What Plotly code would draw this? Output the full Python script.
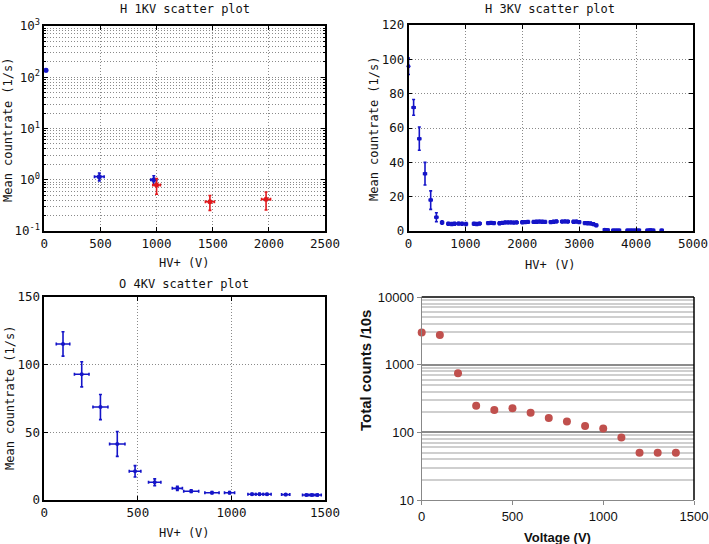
import plotly.graph_objects as go

W, H = 709, 544

# ---------------- data ----------------
# Panel 1: H 1KV (log y)
h1_blue_x = [15, 490, 975]
h1_blue_y = [137, 1.15, 1.0]
h1_blue_yerr = [8, 0.2, 0.2]
h1_blue_xerr = [12, 43, 27]
h1_red_x = [1000, 1475, 1975]
h1_red_y = [0.79, 0.373, 0.417]
h1_red_yerr = [0.27, 0.12, 0.16]
h1_red_xerr = [34, 40, 40]

# Panel 2: H 3KV
h3_x = [0, 90, 190, 290, 390, 490, 590, 700, 760, 810, 880, 940, 1010, 1150, 1200, 1250,
        1400, 1450, 1500, 1600, 1650, 1700, 1750, 1800, 1850, 1900, 2000, 2050, 2100,
        2200, 2250, 2300, 2350, 2400, 2500, 2550, 2600, 2700, 2750, 2800, 2900, 2950,
        3000, 3100, 3150, 3200, 3250, 3300, 3450, 3500, 3600, 3650, 3700, 3850, 3900,
        3950, 4000, 4050, 4200, 4250, 4300, 4450]
h3_y = [96, 72, 53.8, 33.4, 18, 8, 4.9, 4.2, 4.1, 4.2, 4.3, 4.2, 4.1, 4.2, 4.1, 4.3,
        4.6, 4.7, 4.6, 4.5, 4.7, 5.0, 5.0, 5.0, 4.9, 5.0, 5.1, 5.2, 5.3,
        5.3, 5.4, 5.5, 5.4, 5.3, 5.2, 5.4, 5.6, 5.5, 5.6, 5.5, 5.4, 5.5,
        5.2, 4.6, 4.5, 4.4, 4.0, 3.3, 0.8, 0.6, 0.5, 0.5, 0.4, 0.4, 0.5,
        0.5, 0.5, 0.4, 0.5, 0.6, 0.5, 0.4]
h3_yerr = [4.8, 4.6, 6.8, 6.6, 5.4, 2.6, 1.0] + [0.8] * 41 + [0.4] * 14
h3_xerr = [10, 25, 25, 25, 25, 25, 25] + [25] * 55

# Panel 3: O 4KV
o4_x = [100, 200, 300, 390, 485, 590, 711, 785, 896, 990, 1110, 1150, 1190, 1290, 1400, 1430, 1460]
o4_y = [115.3, 92.9, 68.7, 41.4, 21.2, 13.1, 8.6, 6.5, 5.4, 5.4, 4.3, 4.3, 4.2, 4.0, 3.7, 3.7, 3.7]
o4_yerr = [9, 9.3, 9.3, 9.2, 4.2, 2.5, 1.5, 1.0, 0.8, 0.8, 0.6, 0.6, 0.6, 0.6, 0.5, 0.5, 0.5]
o4_xerr = [36, 39, 40, 41, 31, 33, 27, 40, 38, 27, 22, 22, 22, 22, 20, 20, 20]

# Panel 4: total counts
v_x = [0, 100, 200, 300, 400, 500, 600, 700, 800, 900, 1000, 1100, 1200, 1300, 1400]
v_counts = [3000, 2750, 745, 248, 214, 227, 195, 163, 145, 124, 114, 84, 50, 50, 50]

# ---------------- helpers ----------------
def px(x):
    return x / W

def py(y):
    return 1 - y / H

MONO = "DejaVu Sans Mono"
BLUE = "#1414c8"
RED = "#e0181c"
GRID = "#8a8a8a"
DOT = "1px,2px"

fig = go.Figure()

def err_trace(x, y, xe, ye, color, xa, ya, size=5):
    return go.Scatter(
        x=x, y=y, mode="markers", xaxis=xa, yaxis=ya, showlegend=False,
        marker=dict(color=color, size=size),
        error_x=dict(type="data", array=xe, color=color, thickness=1.6, width=1.5),
        error_y=dict(type="data", array=ye, color=color, thickness=1.6, width=1.5),
        cliponaxis=False,
    )

fig.add_trace(err_trace(h1_blue_x, h1_blue_y, h1_blue_xerr, h1_blue_yerr, BLUE, "x", "y"))
fig.add_trace(err_trace(h1_red_x, h1_red_y, h1_red_xerr, h1_red_yerr, RED, "x", "y"))
fig.add_trace(err_trace(h3_x, h3_y, h3_xerr, h3_yerr, BLUE, "x2", "y2", size=4))
fig.add_trace(err_trace(o4_x, o4_y, o4_xerr, o4_yerr, BLUE, "x3", "y3", size=4))
fig.add_trace(go.Scatter(
    x=v_x, y=v_counts, mode="markers", xaxis="x4", yaxis="y4", showlegend=False,
    marker=dict(color="#c0504d", size=8), cliponaxis=False))

mono_axis = dict(
    showline=True, linecolor="black", linewidth=1.5, mirror="allticks",
    ticks="inside", ticklen=4, tickcolor="black", tickwidth=1, automargin=False,
    showgrid=True, gridcolor=GRID, griddash=DOT, gridwidth=1,
    zeroline=False, tickfont=dict(family=MONO, size=12.5, color="#111"),
)

P1x = [px(44.3), px(325)]
P1y = [py(231), py(26)]
P2x = [px(408.5), px(693)]
P2y = [py(231), py(25)]
P3x = [px(44.3), px(325)]
P3y = [py(500), py(297)]
P4x = [px(421.7), px(694)]
P4y = [py(500), py(297)]

decs1 = [0.1, 1, 10, 100, 1000]
minor1 = [m * d for d in [0.1, 1, 10, 100] for m in range(2, 10)]

fig.update_layout(
    width=W, height=H, margin=dict(l=0, r=0, t=0, b=0, autoexpand=False),
    paper_bgcolor="white", plot_bgcolor="white",
    xaxis=dict(mono_axis, domain=P1x, range=[0, 2500], tickvals=[0, 500, 1000, 1500, 2000, 2500],
               anchor="y"),
    yaxis=dict(mono_axis, domain=P1y, type="log", range=[-1, 3], tickvals=decs1,
               ticktext=["10<sup>-1</sup>", "10<sup>0</sup>", "10<sup>1</sup>", "10<sup>2</sup>", "10<sup>3</sup>"],
               minor=dict(tickvals=minor1, showgrid=True, gridcolor=GRID, griddash=DOT,
                          ticks="inside", ticklen=2, tickcolor="black"),
               anchor="x"),
    xaxis2=dict(mono_axis, domain=P2x, range=[0, 5000], dtick=1000, anchor="y2"),
    yaxis2=dict(mono_axis, domain=P2y, range=[0, 120], dtick=20, anchor="x2"),
    xaxis3=dict(mono_axis, domain=P3x, range=[0, 1500], dtick=500, anchor="y3"),
    yaxis3=dict(mono_axis, domain=P3y, range=[0, 150], dtick=50, anchor="x3"),
    xaxis4=dict(domain=P4x, range=[0, 1500], dtick=500, anchor="y4", automargin=False,
                showline=True, linecolor="#888888", linewidth=1.2,
                ticks="outside", ticklen=4, tickcolor="#888888",
                showgrid=False, zeroline=False,
                tickfont=dict(family="Liberation Sans", size=13, color="#111")),
    yaxis4=dict(domain=P4y, type="log", range=[1, 4], anchor="x4", automargin=False,
                tickvals=[10, 100, 1000, 10000], ticktext=["10", "100", "1000", "10000"],
                showline=True, linecolor="#888888", linewidth=1.2,
                ticks="outside", ticklen=4, tickcolor="#888888",
                showgrid=True, gridcolor="#8c8c8c", gridwidth=1.5, zeroline=False,
                minor=dict(tickvals=[m * d for d in [10, 100, 1000] for m in range(2, 10)],
                           showgrid=True, gridcolor="#cfcfcf", gridwidth=1.5),
                tickfont=dict(family="Liberation Sans", size=13, color="#111")),
)

# black top/right frame for panel 4
fig.add_shape(type="line", xref="paper", yref="paper", x0=P4x[0], x1=P4x[1], y0=P4y[1], y1=P4y[1],
              line=dict(color="black", width=1.5))
fig.add_shape(type="line", xref="paper", yref="paper", x0=P4x[1], x1=P4x[1], y0=P4y[0], y1=P4y[1],
              line=dict(color="black", width=1.5))

def ann(text, x, y, size=12, family=MONO, angle=0, bold=False):
    fig.add_annotation(text=("<b>%s</b>" % text) if bold else text, x=px(x), y=py(y),
                       xref="paper", yref="paper", showarrow=False, textangle=angle,
                       xanchor="center", yanchor="middle",
                       font=dict(family=family, size=size, color="#111"))

ann("H 1KV scatter plot", 184.5, 9.5)
ann("H 3KV scatter plot", 550, 9)
ann("O 4KV scatter plot", 184, 283.5)
ann("HV+ (V)", 184, 263)
ann("HV+ (V)", 550, 265)
ann("HV+ (V)", 184, 533)
ann("Mean countrate (1/s)", 8, 130, angle=-90)
ann("Mean countrate (1/s)", 374, 128, angle=-90)
ann("Mean countrate (1/s)", 10, 398, angle=-90)
ann("Voltage (V)", 557, 537, size=13, family="Liberation Sans", bold=True)
ann("Total counts /10s", 365, 371, size=15, family="Liberation Sans", angle=-90, bold=True)

fig.write_html("out.html", config={"displayModeBar": False},
               post_script="document.body.style.margin='0';document.body.style.overflow='hidden';")
